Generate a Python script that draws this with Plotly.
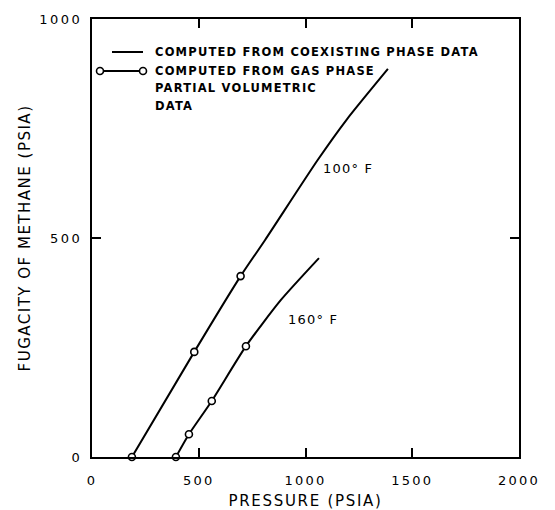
import plotly.graph_objects as go

# Fugacity of methane vs pressure, two isotherms
p100_line = [187, 479, 696, 810, 1057, 1194, 1386]
f100_line = [0, 240, 413, 495, 678, 771, 886]
p100_pts = [187, 479, 696]
f100_pts = [0, 240, 413]

p160_line = [393, 454, 561, 721, 884, 1063]
f160_line = [0, 52, 128, 253, 358, 454]
p160_pts = [393, 454, 561, 721]
f160_pts = [0, 52, 128, 253]

x_ticks = [0, 500, 1000, 1500, 2000]
y_ticks = [0, 500, 1000]

curve_labels = ["100° F", "160° F"]
curve_label_pos = [(1199, 658), (1035, 313)]

legend_lines = ["COMPUTED FROM COEXISTING PHASE DATA",
                "COMPUTED FROM GAS PHASE",
                "PARTIAL VOLUMETRIC",
                "DATA"]

FONT = "DejaVu Sans"
INK = "black"


def spaced(s, ls=1.6):
    return f'<span style="letter-spacing:{ls}px">{s}</span>'


fig = go.Figure()
line_style = dict(color=INK, width=2, shape="spline", smoothing=0.6)
marker_style = dict(symbol="circle", size=7, color="white",
                    line=dict(color=INK, width=1.6))

for px, fy in [(p100_line, f100_line), (p160_line, f160_line)]:
    fig.add_trace(go.Scatter(x=px, y=fy, mode="lines", line=line_style,
                             showlegend=False, hoverinfo="skip"))
for px, fy in [(p100_pts, f100_pts), (p160_pts, f160_pts)]:
    fig.add_trace(go.Scatter(x=px, y=fy, mode="markers", marker=marker_style,
                             showlegend=False, cliponaxis=False))

# curve labels
for txt, (px, fy) in zip(curve_labels, curve_label_pos):
    fig.add_annotation(x=px, y=fy, text=spaced(txt, 1.2), showarrow=False,
                       font=dict(family=FONT, size=13, color=INK),
                       xanchor="center", yanchor="middle")

# hand-built key in the upper left corner
L, R, T, B = 92, 519, 19, 457
W, H = R - L, B - T


def px_x(v):
    return (v - L) / W


def px_y(v):
    return (B - v) / H


fig.add_shape(type="line", xref="paper", yref="paper",
              x0=px_x(112), x1=px_x(143), y0=px_y(52), y1=px_y(52),
              line=dict(color=INK, width=2))
fig.add_shape(type="line", xref="paper", yref="paper",
              x0=px_x(100), x1=px_x(143), y0=px_y(71), y1=px_y(71),
              line=dict(color=INK, width=2))
for cx in (100, 143):
    fig.add_shape(type="circle", xref="paper", yref="paper",
                  xsizemode="pixel", ysizemode="pixel",
                  xanchor=px_x(cx), yanchor=px_y(71),
                  x0=-3.5, x1=3.5, y0=-3.5, y1=3.5,
                  fillcolor="white", line=dict(color=INK, width=1.6))

for txt, yy in zip(legend_lines, [52, 71, 88, 106]):
    fig.add_annotation(xref="paper", yref="paper", x=px_x(153), y=px_y(yy),
                       text=spaced(txt, 1.2), showarrow=False,
                       xanchor="left", yanchor="middle",
                       font=dict(family=FONT, size=11.5, color=INK,
                                 weight="bold"))

axis_common = dict(
    showline=True, linecolor=INK, linewidth=2, mirror="ticks",
    ticks="inside", ticklen=9, tickwidth=1.5, tickcolor=INK,
    showgrid=False, zeroline=False,
    tickfont=dict(family=FONT, size=13, color=INK),
)

fig.update_xaxes(
    range=[0, 2000], tickvals=x_ticks,
    ticktext=[spaced(str(v), 2.2) for v in x_ticks],
    ticklabelstandoff=10,
    title=dict(text=spaced("PRESSURE (PSIA)", 1.7),
               font=dict(family=FONT, size=15, color=INK), standoff=12),
    **axis_common,
)
fig.update_yaxes(
    range=[0, 1000], tickvals=y_ticks,
    ticktext=[spaced(str(v), 2.5) for v in y_ticks],
    ticklabelstandoff=5,
    title=dict(text=spaced("FUGACITY OF METHANE (PSIA)", 1.5),
               font=dict(family=FONT, size=15, color=INK), standoff=5),
    **axis_common,
)

fig.update_layout(
    width=555, height=510,
    margin=dict(l=L, r=555 - R, t=T, b=510 - B, autoexpand=False),
    paper_bgcolor="white", plot_bgcolor="white",
    showlegend=False,
)

fig.write_html("out.html")
